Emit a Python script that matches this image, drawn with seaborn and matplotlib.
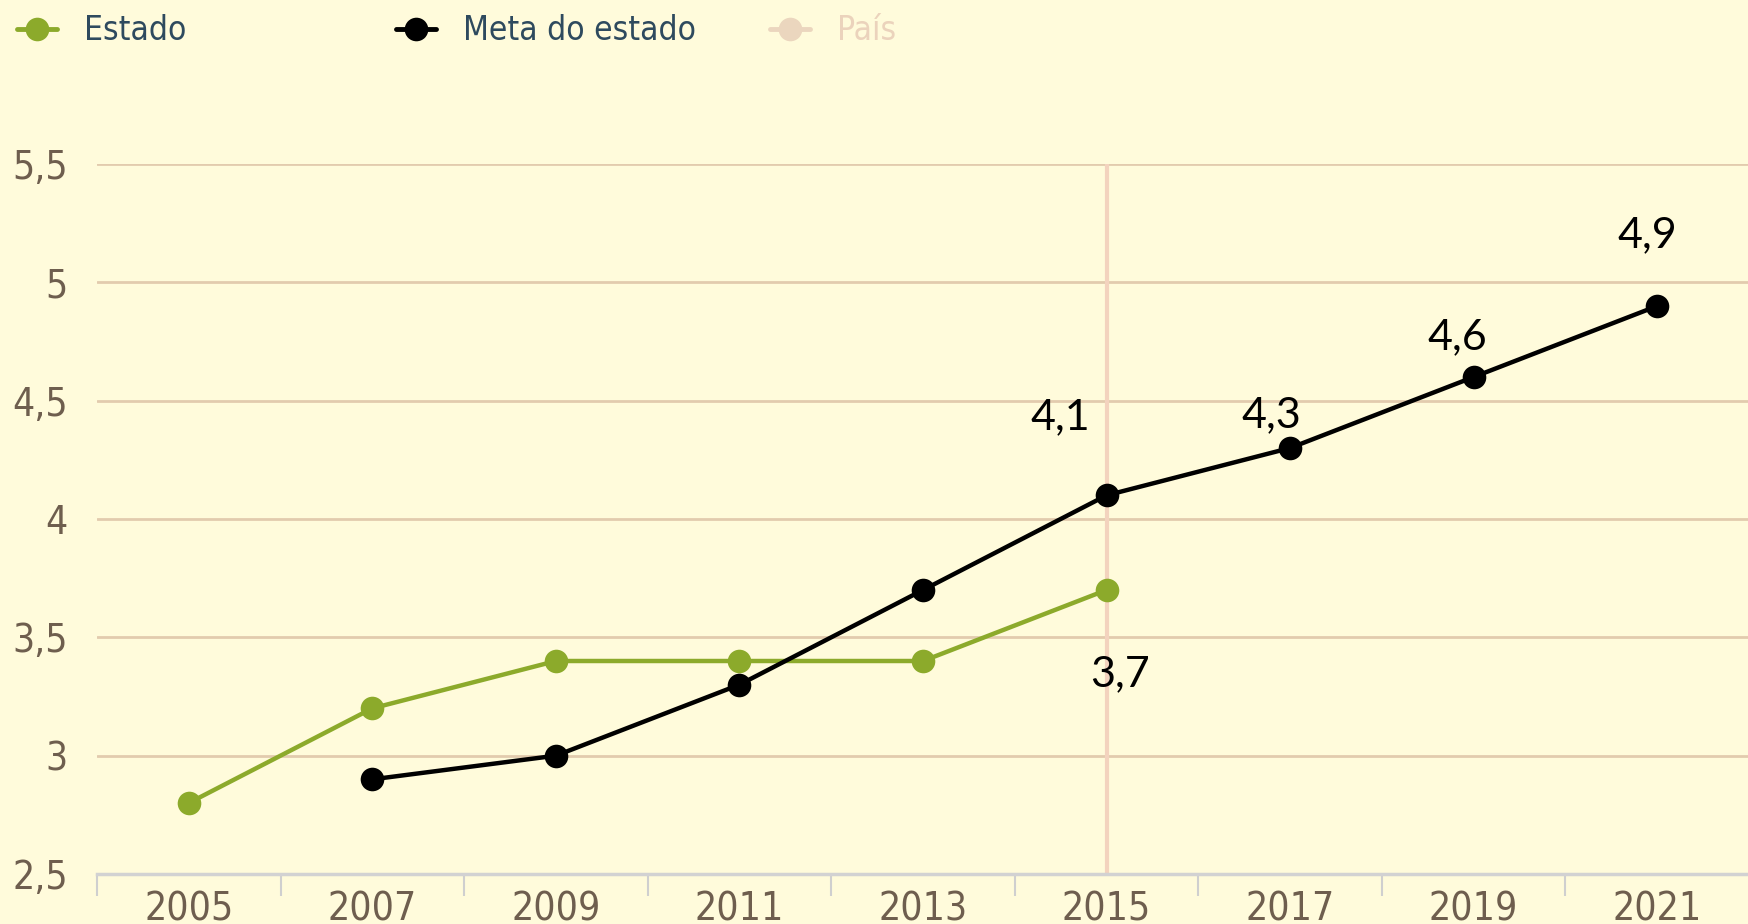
import pandas as pd
import seaborn as sns
import matplotlib.pyplot as plt
from matplotlib.lines import Line2D
from matplotlib import font_manager

# datos
anos_estado = [2005, 2007, 2009, 2011, 2013, 2015]
valores_estado = [2.8, 3.2, 3.4, 3.4, 3.4, 3.7]
anos_meta = [2007, 2009, 2011, 2013, 2015, 2017, 2019, 2021]
valores_meta = [2.9, 3.0, 3.3, 3.7, 4.1, 4.3, 4.6, 4.9]
anos_eixo = [2005, 2007, 2009, 2011, 2013, 2015, 2017, 2019, 2021]
y_ticks = [2.5, 3, 3.5, 4, 4.5, 5, 5.5]

datos = pd.concat([
    pd.DataFrame({'Ano': anos_estado, 'Valor': valores_estado, 'Serie': 'Estado'}),
    pd.DataFrame({'Ano': anos_meta, 'Valor': valores_meta, 'Serie': 'Meta do estado'}),
])

fundo = '#FFFBDB'
verde = '#8CAA2B'
cor_grade = '#E2CBAE'
cor_ticks = '#6E5E4E'

sns.set_style('white')
plt.rcParams['font.family'] = ['DejaVu Sans']

# fonte estreita para os eixos
estreita = None
for f in font_manager.fontManager.ttflist:
    if ('Narrow' in f.fname or 'Condensed' in f.fname) and 'Bold' not in f.fname and 'Oblique' not in f.fname and 'Italic' not in f.fname:
        estreita = f.fname
        break
fp_eixo = font_manager.FontProperties(fname=estreita, size=28) if estreita else font_manager.FontProperties(size=24)
fp_leg = font_manager.FontProperties(fname=estreita, size=24) if estreita else font_manager.FontProperties(size=20)

fig = plt.figure(figsize=(17.49, 9.24), dpi=100, facecolor=fundo)
ax = fig.add_axes([97 / 1749, 1 - 874 / 924, 1 - 97 / 1749, 710 / 924])
ax.set_facecolor(fundo)

# grade horizontal
for v in y_ticks[1:]:
    ax.axhline(v, color=cor_grade, lw=2, zorder=0)
ax.axvline(2015, color='#F3D3BE', lw=3, zorder=0.5)

sns.lineplot(data=datos, x='Ano', y='Valor', hue='Serie',
             palette={'Estado': verde, 'Meta do estado': 'black'},
             marker='o', markersize=17, markeredgewidth=0, linewidth=3.2,
             legend=False, ax=ax, zorder=3)

# rotulos
rotulos = [
    (2015, 4.1, '4,1', -46, 78),
    (2017, 4.3, '4,3', -19, 33),
    (2019, 4.6, '4,6', -16, 40),
    (2021, 4.9, '4,9', -10, 71),
    (2015, 3.7, '3,7', 13, -84),
]
for x, y, txt, dx, dy in rotulos:
    ax.annotate(txt, (x, y), xytext=(dx, dy), textcoords='offset pixels',
                ha='center', va='center', fontsize=31, family=['Lato', 'DejaVu Sans'],
                color='black', zorder=5)

ax.set_xlim(2004, 2022)
ax.set_ylim(2.5, 5.5)
ax.set_xticks(anos_eixo)
ax.set_xticklabels([str(a) for a in anos_eixo], fontproperties=fp_eixo)
ax.set_xticks(list(range(2004, 2021, 2)), minor=True)
ax.tick_params(axis='x', which='major', length=0, pad=12, labelcolor=cor_ticks)
ax.tick_params(axis='x', which='minor', bottom=True, length=16, width=1.5, color='#CFCFCF', direction='out')
ax.set_yticks(y_ticks)
ax.set_yticklabels([str(v).replace('.', ',').replace(',0', '') for v in y_ticks], fontproperties=fp_eixo)
ax.tick_params(axis='y', length=0, pad=21, labelcolor=cor_ticks)
ax.set_xlabel('')
ax.set_ylabel('')
for lado in ['left', 'right', 'top']:
    ax.spines[lado].set_visible(False)
ax.spines['bottom'].set_color('#D2D2D2')
ax.spines['bottom'].set_linewidth(2.5)

# legenda
itens = [
    (Line2D([], [], color=verde, marker='o', markersize=17, markeredgewidth=0, lw=3.5), 'Estado', '#2E4A5E', 17),
    (Line2D([], [], color='black', marker='o', markersize=17, markeredgewidth=0, lw=3.5), 'Meta do estado', '#2E4A5E', 396),
    (Line2D([], [], color='#EBD6BE', marker='o', markersize=17, markeredgewidth=0, lw=3.5), 'País', '#EBD3BC', 770),
]
for h, nome, cor, xpix in itens:
    leg = fig.legend([h], [nome], loc='center left', bbox_to_anchor=(xpix / 1749, 1 - 31 / 924),
                     frameon=False, prop=fp_leg, borderpad=0, borderaxespad=0,
                     handlelength=1.2, handletextpad=0.8)
    for t in leg.get_texts():
        t.set_color(cor)

fig.savefig('out.png', dpi=100, facecolor=fundo)
